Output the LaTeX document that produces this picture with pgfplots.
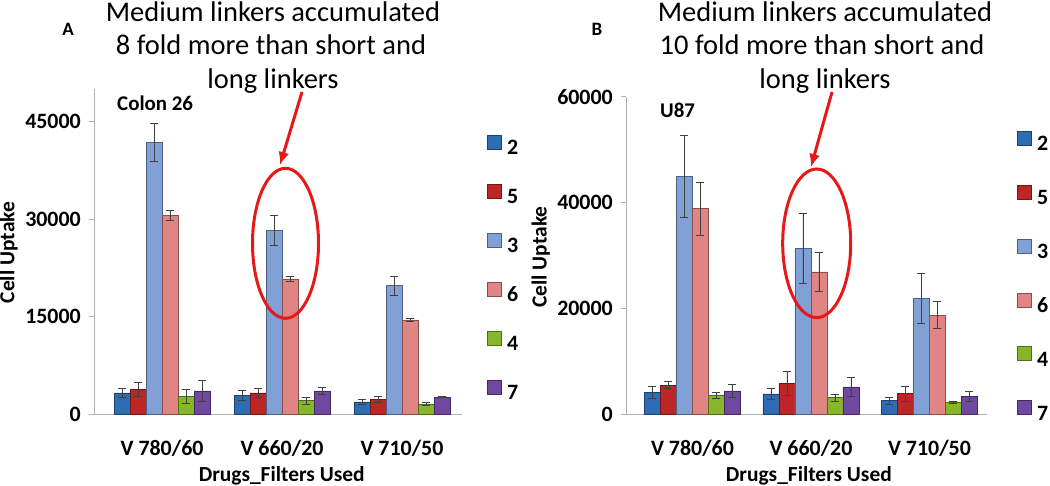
\documentclass[border=0pt]{standalone}
\usepackage{pgfplots}
\pgfplotsset{compat=1.18}
\usepackage{fontspec}
\setmainfont{Carlito}
\usetikzlibrary{arrows.meta}
\definecolor{cB}{RGB}{46,108,180}
\definecolor{cR}{RGB}{190,38,38}
\definecolor{cLB}{RGB}{128,160,214}
\definecolor{cP}{RGB}{224,132,132}
\definecolor{cG}{RGB}{135,182,45}
\definecolor{cV}{RGB}{112,72,160}
\definecolor{annot}{RGB}{230,25,25}
\pgfplotsset{
  mybar/.style={draw=#1!60!black, line width=0.5bp, fill=#1},
  eb/.style={error bars/.cd, y dir=both, y explicit,
     error bar style={line width=0.7bp, black!75},
     error mark options={rotate=90, mark size=4bp, line width=0.7bp, black!75}},
  common/.style={
    scale only axis, ybar=0pt, bar width=16bp, ymin=0,
    axis x line*=bottom, axis y line*=left,
    axis line style={draw=gray!60, line width=0.8bp, -},
    xtick={0,1,2}, xticklabels={V 780/60, V 660/20, V 710/50},
    x tick style={draw=none},
    y tick style={draw=gray!60, line width=0.8bp},
    tick align=outside, major tick length=5bp,
    /pgf/number format/assume math mode=true,
    /pgf/number format/1000 sep={},
    scaled y ticks=false,
    tick label style={font=\fontsize{22}{22}\selectfont\bfseries},
    yticklabel style={anchor=east, inner sep=0pt, xshift=-8bp},
    xticklabel style={anchor=base, inner sep=0pt, yshift=-36bp},
    label style={font=\fontsize{21.5}{21.5}\selectfont\bfseries},
    legend image code/.code={\draw[#1] (0bp,-0.5bp) rectangle (14bp,13.5bp);},
  },
}
\begin{document}
\begin{tikzpicture}
\useasboundingbox (0,0) rectangle (1050bp,-486bp);
% ---------------- Panel A ----------------
\begin{axis}[common,
  at={(94bp,-414.3bp)}, anchor=south west,
  width=368bp, height=325.5bp,
  xmin=-0.567, xmax=2.5, ymax=50000,
  ytick={0,15000,30000,45000},
  xlabel={Drugs\_Filters Used}, ylabel={Cell Uptake},
  xlabel style={at={(axis description cs:0.51,-0.205)}, anchor=base},
  ylabel style={at={(axis description cs:-0.232,0.497)}, anchor=center},
  legend style={draw=none, fill=none, inner sep=0pt, outer sep=0pt, anchor=north west,
    at={(axis description cs:1.0671,0.858)}, row sep=28.2bp,
    font=\fontsize{22}{22}\selectfont\bfseries,
    nodes={inner sep=0pt, text height=13bp, text depth=1bp},
    /tikz/every odd column/.append style={column sep=6bp}},
]
\addplot[mybar=cB, eb] coordinates {(0,3300) +- (0,700) (1,2900) +- (0,750) (2,1900) +- (0,350)};
\addplot[mybar=cR, eb] coordinates {(0,3850) +- (0,1100) (1,3300) +- (0,700) (2,2300) +- (0,500)};
\addplot[mybar=cLB, eb] coordinates {(0,41800) +- (0,2900) (1,28200) +- (0,2300) (2,19750) +- (0,1500)};
\addplot[mybar=cP, eb] coordinates {(0,30600) +- (0,800) (1,20800) +- (0,350) (2,14500) +- (0,200)};
\addplot[mybar=cG, eb] coordinates {(0,2800) +- (0,1100) (1,2100) +- (0,500) (2,1600) +- (0,300)};
\addplot[mybar=cV, eb] coordinates {(0,3600) +- (0,1600) (1,3600) +- (0,600) (2,2650) +- (0,60)};
\legend{2,5,3,6,4,7}
\end{axis}
% ---------------- Panel B ----------------
\begin{axis}[common,
  at={(626bp,-414.3bp)}, anchor=south west,
  width=360.7bp, height=317.6bp,
  xmin=-0.561, xmax=2.483, ymax=60000,
  ytick={0,20000,40000,60000},
  xlabel={Drugs\_Filters Used}, ylabel={Cell Uptake},
  xlabel style={at={(axis description cs:0.507,-0.21)}, anchor=base},
  ylabel style={at={(axis description cs:-0.236,0.495)}, anchor=center},
  legend style={draw=none, fill=none, inner sep=0pt, outer sep=0pt, anchor=north west,
    at={(axis description cs:1.0832,0.892)}, row sep=33.1bp,
    font=\fontsize{22}{22}\selectfont\bfseries,
    nodes={inner sep=0pt, text height=13bp, text depth=1bp},
    /tikz/every odd column/.append style={column sep=6bp}},
]
\addplot[mybar=cB, eb] coordinates {(0,4150) +- (0,1050) (1,3850) +- (0,1100) (2,2600) +- (0,650)};
\addplot[mybar=cR, eb] coordinates {(0,5500) +- (0,650) (1,5800) +- (0,2250) (2,3900) +- (0,1400)};
\addplot[mybar=cLB, eb] coordinates {(0,45000) +- (0,7700) (1,31300) +- (0,6600) (2,21900) +- (0,4700)};
\addplot[mybar=cP, eb] coordinates {(0,38850) +- (0,5000) (1,26900) +- (0,3700) (2,18750) +- (0,2600)};
\addplot[mybar=cG, eb] coordinates {(0,3650) +- (0,550) (1,3150) +- (0,650) (2,2250) +- (0,250)};
\addplot[mybar=cV, eb] coordinates {(0,4450) +- (0,1200) (1,5200) +- (0,1800) (2,3450) +- (0,950)};
\legend{2,5,3,6,4,7}
\end{axis}
% ---------------- Annotations ----------------
\node[font=\fontsize{19}{19}\selectfont\bfseries, anchor=base] at (68bp,-35bp) {A};
\node[font=\fontsize{19}{19}\selectfont\bfseries, anchor=base] at (597bp,-35bp) {B};
\begin{scope}[every node/.style={font=\fontsize{28.6}{28.6}\selectfont, anchor=base, inner sep=0pt}]
\node at (273bp,-21bp) {Medium linkers accumulated};
\node at (271bp,-54bp) {8 fold more than short and};
\node at (273bp,-88bp) {long linkers};
\node at (825bp,-21bp) {Medium linkers accumulated};
\node at (822bp,-54bp) {10 fold more than short and};
\node at (825bp,-88bp) {long linkers};
\end{scope}
\node[font=\fontsize{21}{21}\selectfont\bfseries, anchor=base west, inner sep=0pt] at (117bp,-110.5bp) {Colon 26};
\node[font=\fontsize{21}{21}\selectfont\bfseries, anchor=base west, inner sep=0pt] at (660bp,-117bp) {U87};
\draw[annot, line width=3bp] (285.5bp,-243.3bp) ellipse [x radius=33bp, y radius=75bp];
\draw[annot, line width=3bp] (816.7bp,-243.3bp) ellipse [x radius=34bp, y radius=74.3bp];
\draw[annot, line width=3bp, -{Latex[length=13bp,width=11bp]}] (302bp,-92bp) -- (280bp,-165bp);
\draw[annot, line width=3bp, -{Latex[length=13bp,width=11bp]}] (832bp,-92bp) -- (811bp,-167bp);
\end{tikzpicture}
\end{document}
